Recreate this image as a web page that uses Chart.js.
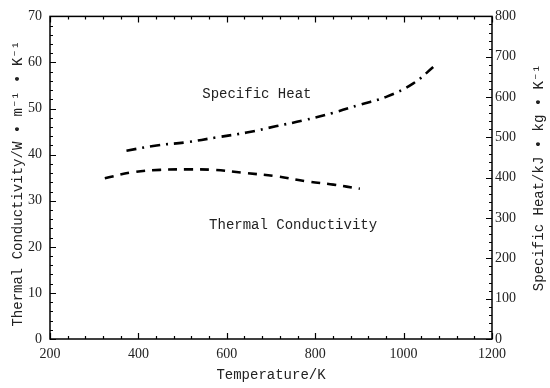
<!DOCTYPE html>
<html>
<head>
<meta charset="utf-8">
<script src="https://cdn.jsdelivr.net/npm/chart.js@4"></script>
<style>
  body { margin: 0; background: #fff; }
  #wrap { width: 550px; height: 388px; }
</style>
</head>
<body>
<div id="wrap"><canvas id="chart"></canvas></div>
<script>
// datos
const tempCond = [324, 388, 449, 509, 570, 645, 713, 781, 841, 901];
const condValues = [34.9, 36.2, 36.7, 36.8, 36.7, 36.0, 35.3, 34.2, 33.5, 32.6];
const tempHeat = [373, 441, 509, 577, 645, 713, 773, 841, 901, 962, 1022, 1071];
const heatValues = [467, 480, 488, 500, 512, 528, 542, 561, 581, 601, 634, 678];

const labelHeat = { text: 'Specific Heat', x: 668, y: 53 };
const labelCond = { text: 'Thermal Conductivity', x: 750, y: 24.7 };
const titleLeft = 'Thermal Conductivity/W • m⁻¹ • K⁻¹';
const titleRight = 'Specific Heat/kJ • kg • K⁻¹';

const monoFont = '"Liberation Mono", "DejaVu Sans Mono", monospace';
const serifFont = '"Liberation Serif", "DejaVu Serif", serif';

// ticks hacia adentro, marco, textos y titulos verticales
const innerTicks = {
    id: 'innerTicks',
    afterDraw(chart) {
        const ctx = chart.ctx;
        const area = chart.chartArea;
        const sx = chart.scales.x, sy = chart.scales.y, sy2 = chart.scales.y2;
        ctx.save();
        ctx.strokeStyle = '#000';
        ctx.lineWidth = 1.2;
        ctx.beginPath();
        for (let v = 200; v <= 1200; v += 40) {
            const px = Math.round(sx.getPixelForValue(v)) + 0.5;
            const len = (v % 200 === 0) ? 6 : 3;
            ctx.moveTo(px, area.bottom); ctx.lineTo(px, area.bottom - len);
            ctx.moveTo(px, area.top); ctx.lineTo(px, area.top + len);
        }
        for (let v = 0; v <= 70; v += 2) {
            const py = Math.round(sy.getPixelForValue(v)) + 0.5;
            const len = (v % 10 === 0) ? 6 : 3;
            ctx.moveTo(area.left, py); ctx.lineTo(area.left + len, py);
        }
        for (let v = 0; v <= 800; v += 20) {
            const py = Math.round(sy2.getPixelForValue(v)) + 0.5;
            const len = (v % 100 === 0) ? 6 : 3;
            ctx.moveTo(area.right, py); ctx.lineTo(area.right - len, py);
        }
        ctx.stroke();
        // marco
        ctx.lineWidth = 1.5;
        ctx.strokeRect(area.left, area.top, area.right - area.left, area.bottom - area.top);

        ctx.fillStyle = '#222';
        ctx.font = '14px ' + monoFont;
        ctx.textAlign = 'center';
        ctx.textBaseline = 'middle';
        [labelHeat, labelCond].forEach(l => {
            ctx.fillText(l.text, sx.getPixelForValue(l.x), sy.getPixelForValue(l.y));
        });

        // titulos de ejes y (ambos leidos de abajo hacia arriba)
        const mid = (area.top + area.bottom) / 2;
        ctx.save();
        ctx.translate(18, mid + 6);
        ctx.rotate(-Math.PI / 2);
        ctx.fillText(titleLeft, 0, 0);
        ctx.restore();
        ctx.save();
        ctx.translate(539, mid);
        ctx.rotate(-Math.PI / 2);
        ctx.fillText(titleRight, 0, 0);
        ctx.restore();
        ctx.restore();
    }
};

const ctx = document.getElementById('chart').getContext('2d');
const chart = new Chart(ctx, {
    type: 'line',
    data: {
        datasets: [{
            label: 'Thermal Conductivity',
            data: tempCond.map((t, i) => ({ x: t, y: condValues[i] })),
            yAxisID: 'y',
            borderColor: '#000',
            borderWidth: 2.6,
            borderDash: [9, 7],
            pointRadius: 0,
            tension: 0.4,
            fill: false
        }, {
            label: 'Specific Heat',
            data: tempHeat.map((t, i) => ({ x: t, y: heatValues[i] })),
            yAxisID: 'y2',
            borderColor: '#000',
            borderWidth: 2.6,
            borderDash: [10, 6, 2, 6],
            pointRadius: 0,
            tension: 0.4,
            fill: false
        }]
    },
    options: {
        responsive: true,
        maintainAspectRatio: false,
        animation: false,
        layout: { padding: { top: 10, left: 0, right: 0, bottom: 0 } },
        plugins: { legend: { display: false }, tooltip: { enabled: false } },
        scales: {
            x: {
                type: 'linear', min: 200, max: 1200,
                grid: { display: false, drawTicks: false },
                border: { display: false },
                ticks: { stepSize: 200, padding: 7, color: '#222', font: { family: serifFont, size: 14 },
                         callback: v => String(v) },
                title: { display: true, text: 'Temperature/K', color: '#222', padding: { top: 2, bottom: 4 }, font: { family: monoFont, size: 14 } },
                afterFit(scale) { scale.height = 49; }
            },
            y: {
                position: 'left', min: 0, max: 70,
                grid: { display: false, drawTicks: false },
                border: { display: false },
                ticks: { stepSize: 10, padding: 8, color: '#222', font: { family: serifFont, size: 14 } },
                afterFit(scale) { scale.width = 50; }
            },
            y2: {
                position: 'right', min: 0, max: 800,
                grid: { display: false, drawTicks: false },
                border: { display: false },
                ticks: { stepSize: 100, padding: 3, color: '#222', font: { family: serifFont, size: 14 } },
                afterFit(scale) { scale.width = 58; }
            }
        }
    },
    plugins: [innerTicks]
});
</script>
</body>
</html>
